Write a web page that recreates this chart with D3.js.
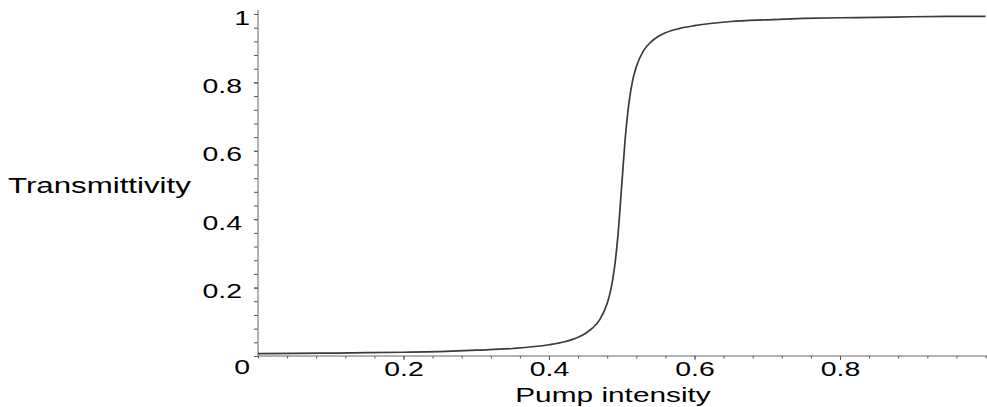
<!DOCTYPE html>
<html>
<head>
<meta charset="utf-8">
<script src="https://cdn.jsdelivr.net/npm/d3@7"></script>
<style>
  body { margin: 0; background: #fff; }
  svg text { font-family: "Liberation Sans", Arial, sans-serif; fill: #000; }
</style>
</head>
<body>
<div id="chart"></div>
<script>
// pump intensity vs transmittivity
const pump = [0, 0.05, 0.1, 0.15, 0.2, 0.25, 0.3, 0.35, 0.4, 0.42, 0.44, 0.45, 0.46, 0.47,
  0.48, 0.485, 0.49, 0.495, 0.5, 0.505, 0.51, 0.515, 0.52, 0.53, 0.54, 0.55, 0.56, 0.58,
  0.6, 0.65, 0.7, 0.75, 0.8, 0.85, 0.9, 0.95, 1.0];
const transm = [0.007, 0.0075, 0.0085, 0.0096, 0.011, 0.013, 0.017, 0.022, 0.033, 0.041, 0.055, 0.066, 0.082, 0.107,
  0.154, 0.194, 0.258, 0.358, 0.5, 0.641, 0.742, 0.806, 0.846, 0.893, 0.918, 0.934, 0.945, 0.958,
  0.966, 0.978, 0.983, 0.987, 0.989, 0.990, 0.992, 0.993, 0.993];

const xTicks = [0.2, 0.4, 0.6, 0.8];
const yTicks = [0, 0.2, 0.4, 0.6, 0.8, 1];
const xLabel = "Pump intensity";
const yLabel = "Transmittivity";

const width = 987, height = 407;
const stretch = 1.42;   // the original glyphs are drawn wide

const svg = d3.select("#chart").append("svg")
    .attr("width", width)
    .attr("height", height);

const x = d3.scaleLinear().domain([0, 1]).range([258, 985.5]);
const y = d3.scaleLinear().domain([0, 1]).range([356, 14]);

function widen(sel) {
  sel.each(function() {
    const w = this.getComputedTextLength();
    d3.select(this).attr("textLength", w * stretch).attr("lengthAdjust", "spacingAndGlyphs");
  });
}

// minor ticks
const xMinor = d3.range(0, 1.0001, 0.04);
const yMinor = d3.range(0, 1.0001, 0.04);

svg.append("g")
    .attr("transform", `translate(0,${y(0)})`)
    .call(d3.axisBottom(x).tickValues(xMinor).tickSize(2.5).tickFormat(""))
    .call(g => g.select(".domain").remove())
    .call(g => g.selectAll("line").attr("stroke", "#555"));

svg.append("g")
    .attr("transform", `translate(${x(0)},0)`)
    .call(d3.axisLeft(y).tickValues(yMinor).tickSize(4).tickFormat(""))
    .call(g => g.select(".domain").remove())
    .call(g => g.selectAll("line").attr("stroke", "#555"));

// x axis
const gx = svg.append("g")
    .attr("transform", `translate(0,${y(0)})`)
    .call(d3.axisBottom(x).tickValues(xTicks).tickSize(4).tickSizeOuter(0).tickPadding(2)
      .tickFormat(d3.format(".1f")));
gx.select(".domain").attr("stroke", "#666").attr("d", `M${x(0)},0H${width}`);
gx.selectAll("line").attr("stroke", "#555");
gx.selectAll("text")
    .attr("font-size", 20)
    .attr("font-family", "Liberation Sans, Arial, sans-serif")
    .attr("dy", "0.71em")
    .call(widen);

// y axis
const gy = svg.append("g")
    .attr("transform", `translate(${x(0)},0)`)
    .call(d3.axisLeft(y).tickValues(yTicks).tickSize(4).tickSizeOuter(0).tickPadding(12)
      .tickFormat(d => d === 0 || d === 1 ? d3.format("d")(d) : d3.format(".1f")(d)));
gy.select(".domain").attr("stroke", "#666").attr("d", `M0,${y(0)}V10`);
gy.selectAll("line").attr("stroke", "#555");
gy.selectAll("text")
    .attr("font-size", 20)
    .attr("font-family", "Liberation Sans, Arial, sans-serif")
    .attr("dy", "0.5em")
    .call(widen);
gy.selectAll(".tick")
    .filter(d => d === 0 || d === 1)
    .select("text")
    .attr("x", -8);
gy.selectAll(".tick")
    .filter(d => d === 0)
    .select("text")
    .attr("dy", "0.85em");

// axis titles
svg.append("text")
    .attr("x", 8)
    .attr("y", 193)
    .attr("font-size", 22)
    .text(yLabel)
    .call(widen);

svg.append("text")
    .attr("x", 613)
    .attr("y", 402)
    .attr("text-anchor", "middle")
    .attr("font-size", 21)
    .text(xLabel)
    .call(widen);

// curve
const pts = pump.map((p, i) => ({ p: p, t: transm[i] }));
const line = d3.line()
    .x(d => x(d.p))
    .y(d => y(d.t))
    .curve(d3.curveMonotoneX);

svg.append("path")
    .datum(pts)
    .attr("fill", "none")
    .attr("stroke", "#3a3a3a")
    .attr("stroke-width", 1.7)
    .attr("d", line);
</script>
</body>
</html>
